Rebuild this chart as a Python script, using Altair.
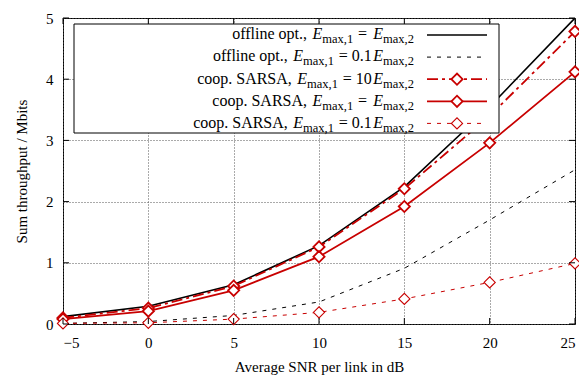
import altair as alt
import pandas as pd

# ---------------- data ----------------
snr = [-5, 0, 5, 10, 15, 20, 25]
offline_eq = [0.12, 0.29, 0.64, 1.28, 2.24, 3.55, 5.00]
offline_01 = [0.01, 0.04, 0.14, 0.36, 0.91, 1.70, 2.52]
sarsa_10 = [0.10, 0.26, 0.62, 1.26, 2.21, 3.40, 4.78]
sarsa_eq = [0.08, 0.21, 0.55, 1.10, 1.92, 2.96, 4.12]
sarsa_01 = [0.01, 0.02, 0.08, 0.19, 0.41, 0.68, 0.99]

x_ticks = [-5, 0, 5, 10, 15, 20, 25]
y_ticks = [0, 1, 2, 3, 4, 5]

legend_prefix = ["offline opt.,", "offline opt.,", "coop. SARSA,", "coop. SARSA,", "coop. SARSA,"]
legend_mid = ["=", "= 0.1", "= 10", "=", "= 0.1"]
sub1 = "max,1"
sub2 = "max,2"

# ---------------- style ----------------
W, H = 512, 306
FONT = "Liberation Serif"
RED = "#c80000"
series = [
    dict(vals=offline_eq, color="black", dash=None, width=1.6, marker=False, mw=0),
    dict(vals=offline_01, color="black", dash=[4, 6], width=1.0, marker=False, mw=0),
    dict(vals=sarsa_10, color=RED, dash=[11, 4, 3, 4], width=1.8, marker=True, mw=1.8),
    dict(vals=sarsa_eq, color=RED, dash=None, width=1.8, marker=True, mw=1.8),
    dict(vals=sarsa_01, color=RED, dash=[4, 6], width=1.0, marker=True, mw=1.1),
]

xscale = alt.Scale(domain=[-5, 25], nice=False, zero=False)
yscale = alt.Scale(domain=[0, 5], nice=False)

x_enc = alt.X(
    "snr:Q", scale=xscale,
    axis=alt.Axis(values=x_ticks, title="Average SNR per link in dB", grid=True,
                  ticks=False, domain=False, labelPadding=11, titlePadding=9),
)
y_enc = alt.Y(
    "val:Q", scale=yscale,
    axis=alt.Axis(values=y_ticks, format="d", title="Sum throughput / Mbits", grid=True,
                  ticks=False, domain=False, labelPadding=10, titlePadding=16),
)

layers = []
for i, s in enumerate(series):
    df = pd.DataFrame({"snr": snr, "val": s["vals"]})
    kw = dict(color=s["color"], strokeWidth=s["width"], clip=True)
    if s["dash"]:
        kw["strokeDash"] = s["dash"]
    layers.append(alt.Chart(df).mark_line(**kw).encode(x=x_enc, y=y_enc))
    if s["marker"]:
        layers.append(
            alt.Chart(df).mark_point(shape="diamond", size=125, filled=True, fill="white",
                                     stroke=s["color"], strokeWidth=s["mw"], opacity=1)
            .encode(x=x_enc, y=y_enc)
        )

# inward ticks on all four sides
xt = pd.DataFrame({"snr": x_ticks})
yt = pd.DataFrame({"val": y_ticks})
TK = 6
layers.append(alt.Chart(xt).mark_rule(color="black", strokeWidth=1).encode(x=x_enc, y=alt.value(H), y2=alt.value(H - TK)))
layers.append(alt.Chart(xt).mark_rule(color="black", strokeWidth=1).encode(x=x_enc, y=alt.value(0), y2=alt.value(TK)))
layers.append(alt.Chart(yt).mark_rule(color="black", strokeWidth=1).encode(y=y_enc, x=alt.value(0), x2=alt.value(TK)))
layers.append(alt.Chart(yt).mark_rule(color="black", strokeWidth=1).encode(y=y_enc, x=alt.value(W - TK), x2=alt.value(W)))

# ---------------- legend ----------------
LX0, LX1, LY0, LY1 = 11, 436, 6, 115
layers.append(
    alt.Chart(pd.DataFrame({"a": [0]})).mark_rect(fill="white", stroke="black", strokeWidth=1)
    .encode(x=alt.value(LX0), x2=alt.value(LX1), y=alt.value(LY0), y2=alt.value(LY1))
)

TIMES = {' ': 250, ',': 250, '.': 250, '0': 500, '1': 500, '2': 500, '=': 564, 'a': 444,
         'c': 444, 'e': 444, 'f': 333, 'i': 278, 'l': 278, 'm': 778, 'n': 500, 'o': 500,
         'p': 500, 't': 278, 'x': 500, 'A': 722, 'R': 667, 'S': 556}


def tw(s, size):
    return sum(TIMES.get(c, 500) for c in s) * size / 1000.0


MAIN, SUB = 16, 12.5
E_W = 0.611 * MAIN + 1.5
THICK = 0.30 * MAIN
R = 351
row_y = [17 + 22.1 * k for k in range(5)]

main_rows, e_rows, sub_rows = [], [], []
for k in range(5):
    y = row_y[k]
    x = R
    sub_rows.append({"px": x, "py": y + 8.3, "txt": sub2})
    x -= tw(sub2, SUB)
    e_rows.append({"px": x, "py": y + 4.3, "txt": "E"})
    x -= E_W
    if legend_mid[k] == "=":
        x -= THICK
    main_rows.append({"px": x, "py": y + 4.3, "txt": legend_mid[k]})
    x -= tw(legend_mid[k], MAIN) + THICK
    sub_rows.append({"px": x, "py": y + 8.3, "txt": sub1})
    x -= tw(sub1, SUB)
    e_rows.append({"px": x, "py": y + 4.3, "txt": "E"})
    x -= E_W + tw(" ", MAIN)
    main_rows.append({"px": x, "py": y + 4.3, "txt": legend_prefix[k]})


def text_layer(rows, **kw):
    return alt.Chart(pd.DataFrame(rows)).mark_text(
        align="right", baseline="alphabetic", font=FONT, color="black", **kw
    ).encode(
        x=alt.X("px:Q", scale=None, axis=None),
        y=alt.Y("py:Q", scale=None, axis=None),
        text="txt:N",
    )


layers.append(text_layer(main_rows, fontSize=MAIN))
layers.append(text_layer(e_rows, fontSize=MAIN, fontStyle="italic"))
layers.append(text_layer(sub_rows, fontSize=SUB))

SX0, SX1, SXM = 364, 424, 394
for k, s in enumerate(series):
    kw = dict(color=s["color"], strokeWidth=s["width"])
    if s["dash"]:
        kw["strokeDash"] = s["dash"]
    layers.append(
        alt.Chart(pd.DataFrame({"a": [0]})).mark_rule(**kw)
        .encode(x=alt.value(SX0), x2=alt.value(SX1), y=alt.value(row_y[k]))
    )
    if s["marker"]:
        layers.append(
            alt.Chart(pd.DataFrame({"a": [0]})).mark_point(
                shape="diamond", size=125, filled=True, fill="white",
                stroke=s["color"], strokeWidth=s["mw"], opacity=1)
            .encode(x=alt.value(SXM), y=alt.value(row_y[k]))
        )

chart = (
    alt.layer(*layers)
    .properties(width=W, height=H, autosize=alt.AutoSizeParams(type="none"),
                padding={"left": 55, "top": 10, "right": 4, "bottom": 51})
    .configure_view(stroke="black", strokeWidth=1)
    .configure_axis(
        labelFont=FONT, titleFont=FONT, labelFontSize=15, titleFontSize=15,
        labelColor="black", titleColor="black", titleFontWeight="normal",
        gridColor="#555", gridDash=[1, 2], gridWidth=1, gridOpacity=1,
    )
)

chart.save("out.html", embed_options={"renderer": "svg", "actions": False})
